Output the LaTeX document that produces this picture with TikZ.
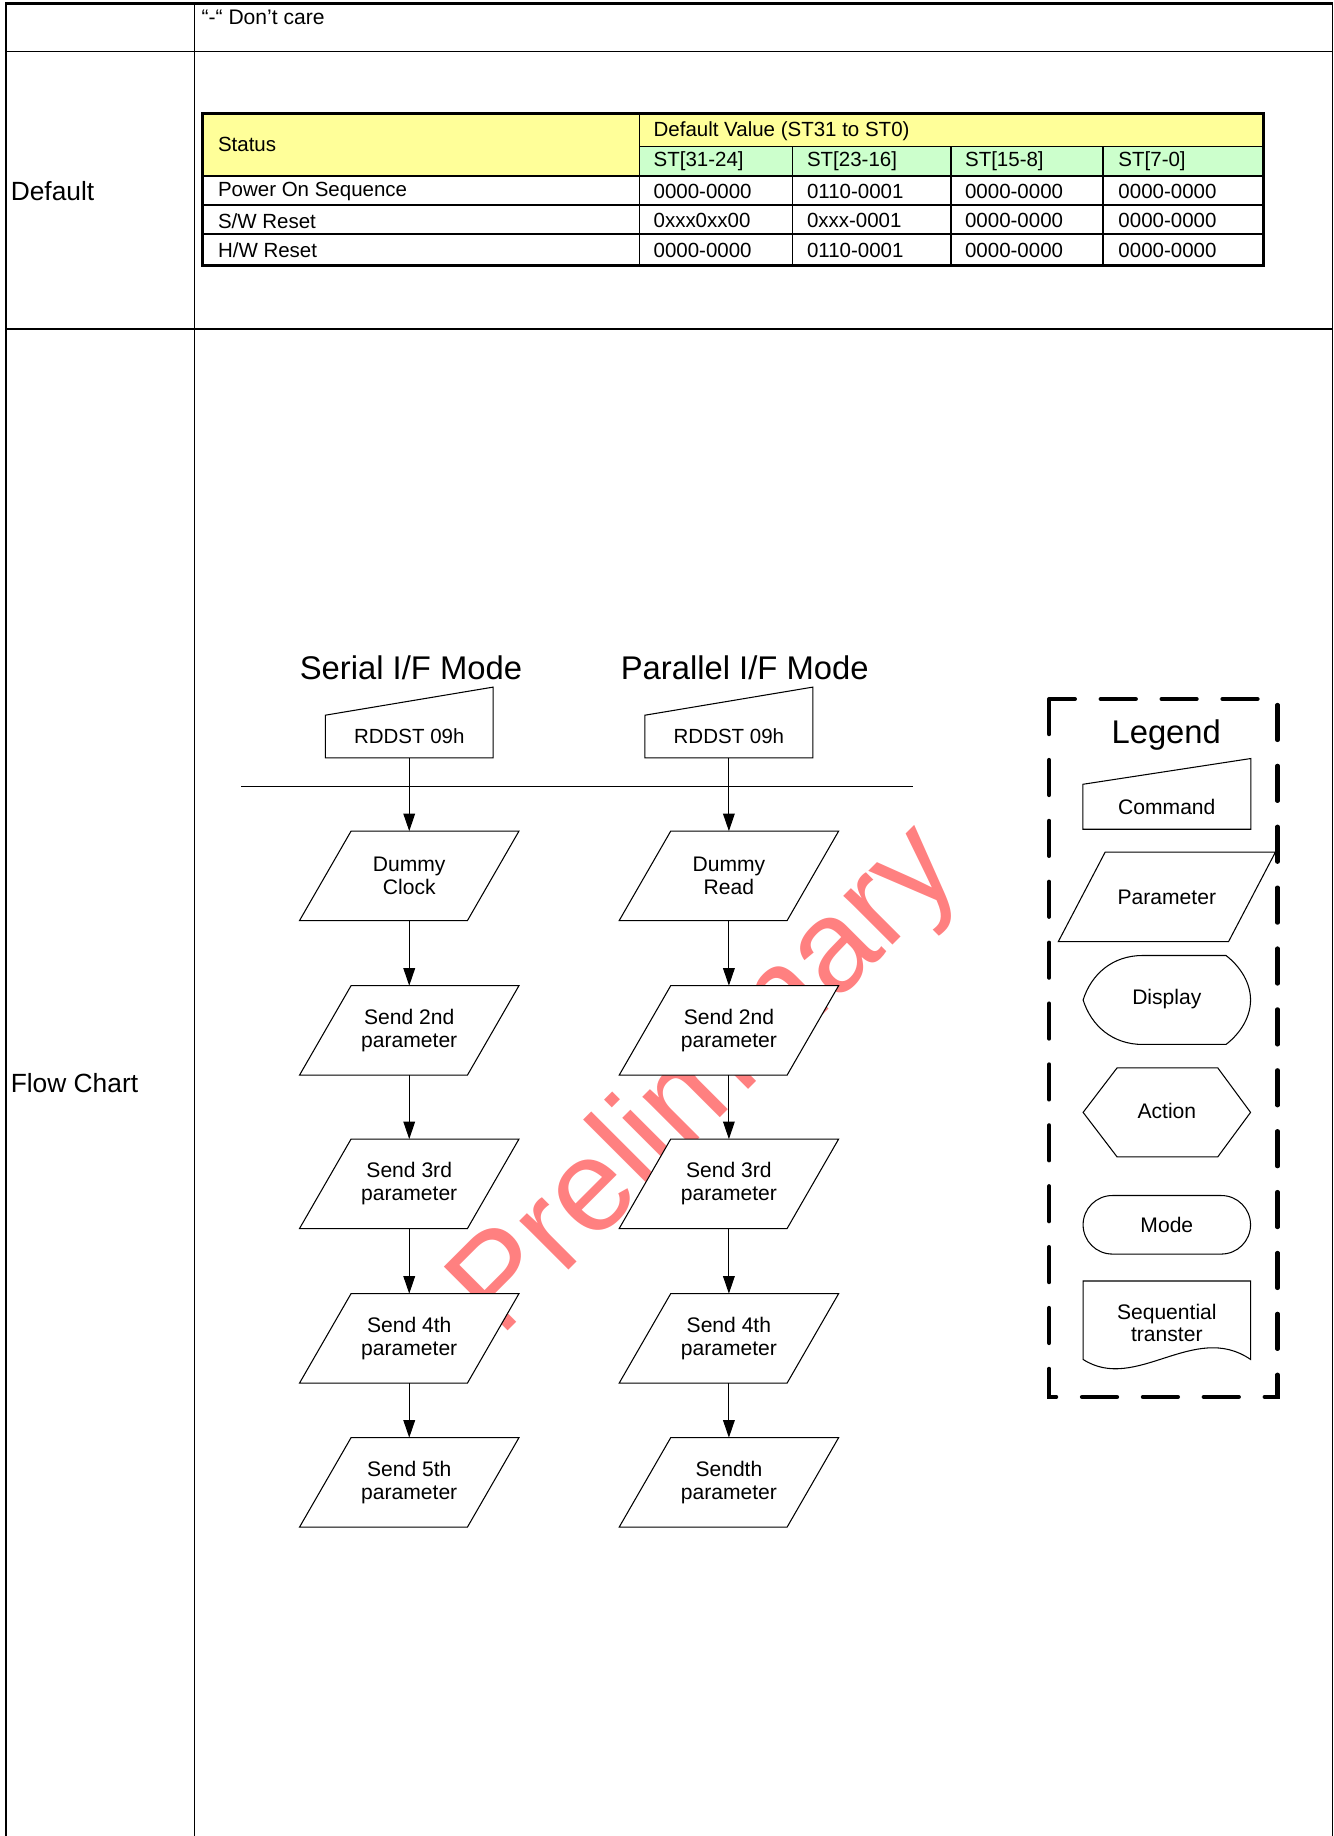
\documentclass[tikz,border=0pt]{standalone}
\usepackage{fontspec}
\setmainfont{Liberation Sans}
\usetikzlibrary{arrows.meta,positioning,calc}
\definecolor{hdryellow}{RGB}{255,255,153}
\definecolor{hdrgreen}{RGB}{204,255,204}
\definecolor{wmred}{RGB}{255,128,128}
\pgfdeclarelayer{wmlayer}
\pgfdeclarelayer{shapelayer}
\pgfsetlayers{wmlayer,shapelayer,main}

\tikzset{
  lbl/.style={inner sep=0pt,anchor=west},
  cell/.style={inner sep=0pt,anchor=west,font=\fontsize{17.5}{20}\selectfont},
  title/.style={inner sep=0pt,font=\fontsize{28}{32}\selectfont},
  param/.style={inner sep=0pt,minimum width=143,minimum height=76,align=center,
    font=\fontsize{18}{20}\selectfont},
  cmdbox/.style={inner sep=0pt,minimum width=143,minimum height=36,
    font=\fontsize{17.5}{20}\selectfont},
  legitem/.style={inner sep=0pt,minimum width=143,align=center,
    font=\fontsize{18}{19}\selectfont},
  arr/.style={-{Triangle[length=15pt,width=10pt]},line width=0.9pt},
  shapeline/.style={line width=0.9pt,fill=white}
}

\begin{document}
\begin{tikzpicture}[x=1pt,y=-1pt]
  \useasboundingbox (0,0) rectangle (1139,1568);

  % outer table
  \draw[line width=2.2pt] (5,1568)--(5,3)--(1138,3);
  \draw[line width=1.4pt] (1138,3)--(1138,1568);
  \draw[line width=1.6pt] (5,44)--(1138,44) (5,281)--(1138,281);
  \draw[line width=1.2pt] (166,3)--(166,1568);
  \node[lbl,font=\fontsize{18}{21}\selectfont] (dontcare) at (172,15) {“-“ Don’t care};
  \node[lbl,font=\fontsize{22.5}{26}\selectfont] (deflbl) at (9,163) {Default};
  \node[lbl,font=\fontsize{22.5}{26}\selectfont] (flowlbl) at (9,925) {Flow Chart};

  % default value table
  \fill[hdryellow] (173,97) rectangle (546,150);
  \fill[hdryellow] (546,97) rectangle (1079,125);
  \fill[hdrgreen] (546,125) rectangle (1079,150);
  \draw[line width=1pt] (546,125)--(1079,125);
  \draw[line width=1.5pt] (173,150)--(1079,150) (173,175)--(1079,175) (173,200)--(1079,200);
  \draw[line width=1.3pt] (546,97)--(546,227);
  \foreach \x in {677,812,942}
    \draw[line width=1.3pt] (\x,125)--(\x,227);
  \draw[line width=2.6pt] (173,97) rectangle (1079,227);
  \node[cell] (status) at (186,123) {Status};
  \node[cell] (defval) at (558,112) {Default Value (ST31 to ST0)};
  \foreach \x/\lab [count=\c] in {558/{ST[31-24]},689/{ST[23-16]},824/{ST[15-8]},955/{ST[7-0]}}
    \node[cell] (bits\c) at (\x,137.5) {\lab};
  \foreach \st/\va/\vb [count=\r] in {{Power On Sequence}/0000-0000/0110-0001,{S/W Reset}/0xxx0xx00/0xxx-0001,{H/W Reset}/0000-0000/0110-0001}{
    \node[cell] (st\r) at (186,{138.5+25*\r}) {\st};
    \node[cell] (va\r) at (558,{138.5+25*\r}) {\va};
    \node[cell] (vb\r) at (689,{138.5+25*\r}) {\vb};
    \node[cell] (vc\r) at (824,{138.5+25*\r}) {0000-0000};
    \node[cell] (vd\r) at (955,{138.5+25*\r}) {0000-0000};
  }

  % watermark
  \begin{pgfonlayer}{wmlayer}
    \node[inner sep=0pt,anchor=base west,rotate=45,text=wmred,font=\fontsize{112}{112}\selectfont] (wmark) at (427,1143) {Preliminary};
  \end{pgfonlayer}

  % flow chart
  \node[title] (sertitle) at (351,570) {Serial I/F Mode};
  \node[title] (partitle) at (636,570) {Parallel I/F Mode};
  \node[cmdbox] (sercmd) at (349.5,629) {RDDST 09h};
  \node[cmdbox] (parcmd) at (622.5,629) {RDDST 09h};
  \foreach \n in {sercmd,parcmd}
    \draw[line width=0.9pt] (\n.south west)--(\n.north west)--([yshift=24pt]\n.north east)--(\n.south east)--cycle;
  \draw[line width=0.9pt] (206,672)--(780,672);

  \foreach \lab/\y [count=\i] in {{Dummy\\Clock}/748,{Send 2nd\\parameter}/880,{Send 3rd\\parameter}/1011,{Send 4th\\parameter}/1143,{Send 5th\\parameter}/1266}
    \node[param] (ser\i) at (349.5,\y) {\lab};
  \foreach \lab/\y [count=\i] in {{Dummy\\Read}/748,{Send 2nd\\parameter}/880,{Send 3rd\\parameter}/1011,{Send 4th\\parameter}/1143,{Sendth\\parameter}/1266}
    \node[param] (par\i) at (622.5,\y) {\lab};
  \draw[arr] (sercmd.south)--(ser1.north);
  \draw[arr] (parcmd.south)--(par1.north);
  \foreach \i/\j in {1/2,2/3,3/4,4/5}{
    \draw[arr] (ser\i.south)--(ser\j.north);
    \draw[arr] (par\i.south)--(par\j.north);
  }

  % legend
  \draw[line width=3.5pt,line cap=round,dash pattern=on 30pt off 22pt] (896,597) rectangle (1091,1193);
  \node[title] (legtitle) at (996,628) {Legend};
  \node[legitem,minimum height=38] (lcmd) at (996.5,689) {Command};
  \draw[line width=0.9pt] (lcmd.south west)--(lcmd.north west)--([yshift=22pt]lcmd.north east)--(lcmd.south east)--cycle;
  \node[legitem,minimum width=145,minimum height=76] (lpar) at (996.5,766) {Parameter};
  \draw[shapeline] (925,854) .. controls (932,832) and (950,816) .. (976,816)--(1047,816)
    .. controls (1060,826) and (1068,840) .. (1068,854)
    .. controls (1068,868) and (1060,882) .. (1047,892)--(976,892)
    .. controls (950,892) and (932,876) .. cycle;
  \node[legitem,minimum height=76] (ldisp) at (996.5,853) {Display};
  \draw[shapeline] (925,950)--(954,912)--(1040,912)--(1068,950)--(1040,988)--(954,988)--cycle;
  \node[legitem,minimum height=76] (lact) at (996.5,949) {Action};
  \node[legitem,draw,line width=0.9pt,rounded corners=25pt,minimum height=50] (lmode) at (996.5,1046) {Mode};
  \draw[shapeline] (925,1094)--(1068,1094)--(1068,1161)
    .. controls (1020,1128) and (970,1190) .. (925,1161)--cycle;
  \node[legitem] (lseq) at (996.5,1130) {Sequential\\transter};

  % parallelogram outlines, under the texts
  \begin{pgfonlayer}{shapelayer}
    \foreach \n/\d in {ser1/22,ser2/22,ser3/22,ser4/22,ser5/22,par1/22,par2/22,par3/22,par4/22,par5/22,lpar/20}
      \draw[shapeline] ([xshift=-\d pt]\n.south west)--([xshift=\d pt]\n.north west)
        --([xshift=\d pt]\n.north east)--([xshift=-\d pt]\n.south east)--cycle;
  \end{pgfonlayer}
\end{tikzpicture}
\end{document}
